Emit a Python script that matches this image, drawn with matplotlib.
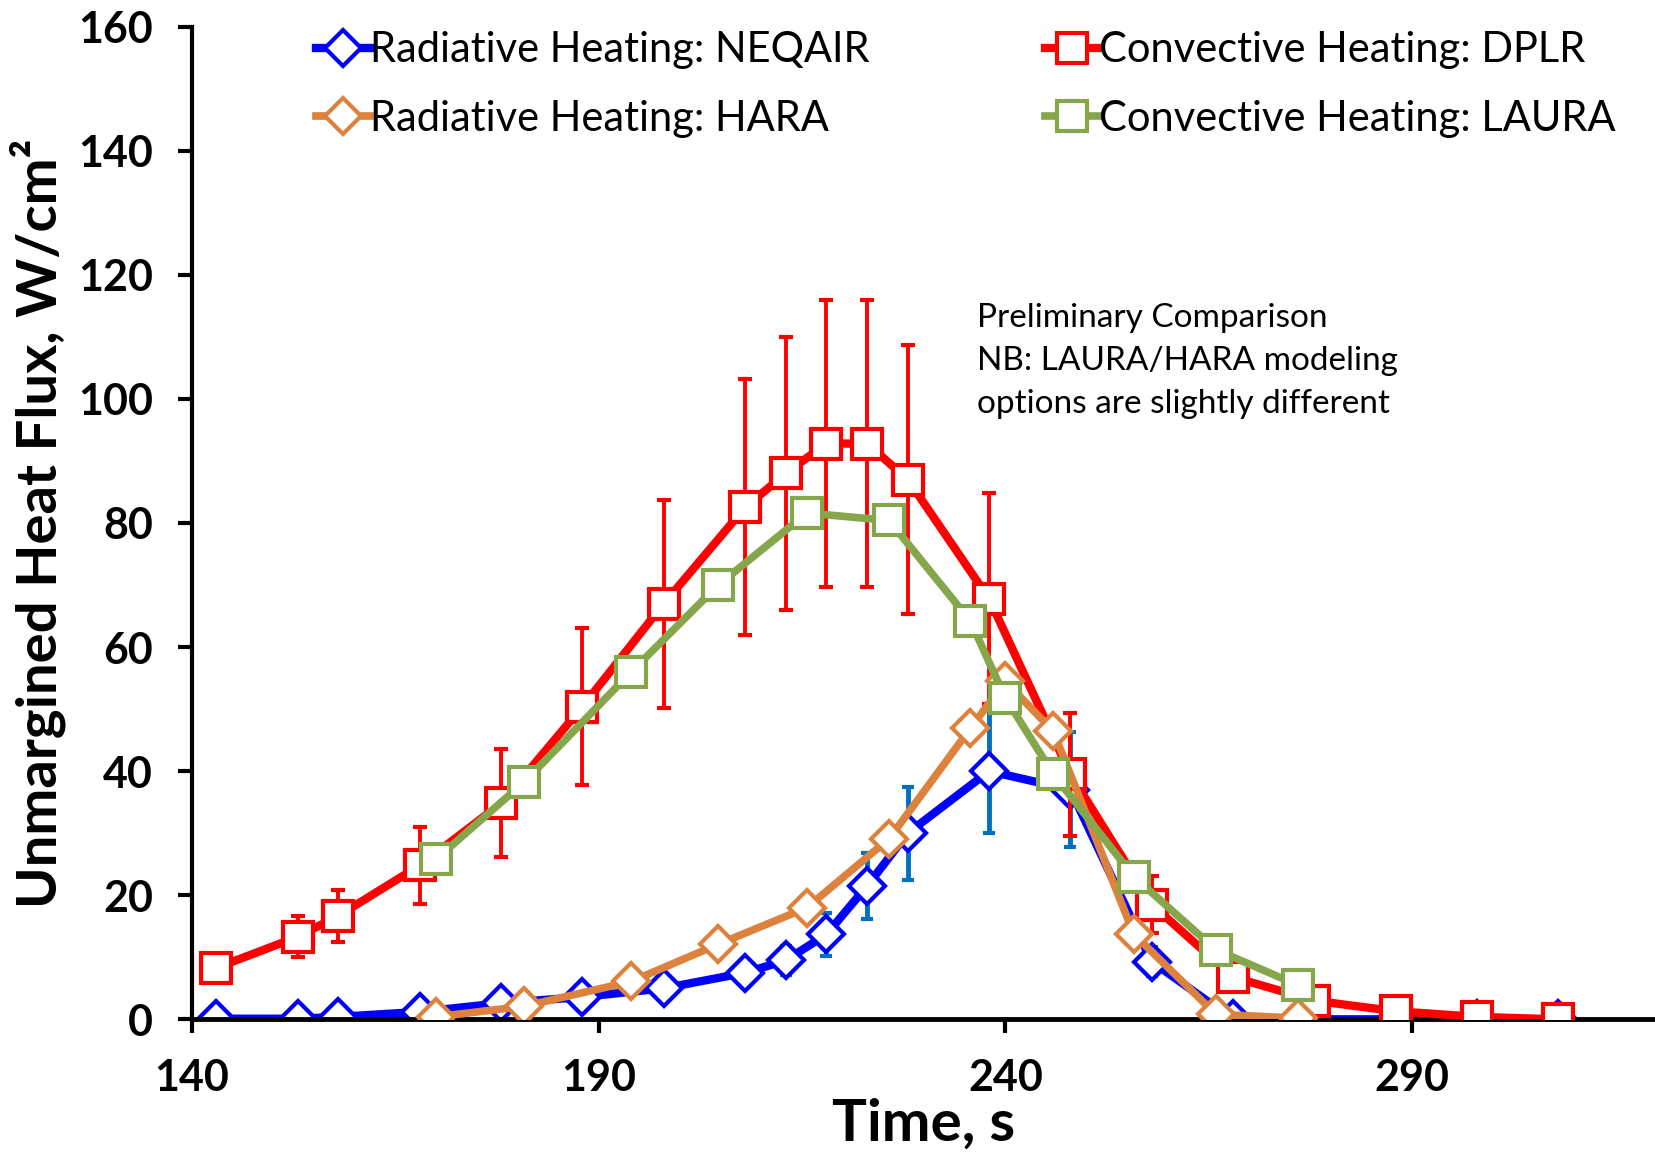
import matplotlib
matplotlib.use("Agg")
import matplotlib.pyplot as plt

plt.rcParams['font.family'] = ['Lato', 'DejaVu Sans']

# times (s) of the NEQAIR / DPLR solutions
t_main = [143, 153, 158, 168, 178, 188, 198, 208, 213, 218, 223, 228, 238, 248, 258, 268, 278, 288, 298, 308]
neqair = [0.1, 0.1, 0.4, 1.2, 2.6, 3.6, 5.0, 7.5, 9.5, 13.7, 21.5, 30.0, 40.0, 37.0, 9.3, 0.0, 0.0, 0.0, 0.0, 0.0]
dplr = [8.3, 13.3, 16.7, 24.8, 34.8, 50.4, 67.0, 82.5, 88.0, 92.8, 92.8, 87.0, 67.8, 39.5, 18.5, 6.8, 3.0, 1.3, 0.4, 0.0]

# times (s) of the HARA / LAURA solutions
t_laura = [170, 180.8, 194, 204.7, 215.6, 225.7, 235.7, 240, 245.9, 255.8, 265.9, 276]
hara = [0.4, 2.1, 6.1, 12.1, 18.0, 29.1, 46.9, 54.5, 46.4, 13.7, 0.8, 0.2]
laura = [25.8, 38.2, 56.0, 70.0, 81.6, 80.4, 64.2, 51.8, 39.5, 23.0, 11.2, 5.5]

# percentage error bars on the NEQAIR and DPLR points
err_pct = 0.25

labels = ['Radiative Heating: NEQAIR', 'Convective Heating: DPLR',
          'Radiative Heating: HARA', 'Convective Heating: LAURA']
colors = ['#0000FF', '#FF0000', '#DC823C', '#86A64C']
note = "Preliminary Comparison\nNB: LAURA/HARA modeling\noptions are slightly different"

fig = plt.figure(figsize=(16.56, 11.57), dpi=100)
ax = fig.add_axes([0.116, 0.119, 0.884, 0.858])

sq = dict(marker='s', markersize=21, markeredgewidth=3, markerfacecolor='white')
dm = dict(marker='D', markersize=18, markeredgewidth=3, markerfacecolor='white')

h_neq = ax.errorbar(t_main, neqair, yerr=[v * err_pct for v in neqair], color=colors[0],
                    lw=6, ecolor='#0070C0', elinewidth=3.5, capsize=4, capthick=4,
                    zorder=2, **dm)
h_dplr = ax.errorbar(t_main, dplr, yerr=[v * err_pct for v in dplr], color=colors[1],
                     lw=6, ecolor='#FF0000', elinewidth=2.8, capsize=5, capthick=2.8,
                     zorder=3, **sq)
h_hara, = ax.plot(t_laura, hara, color=colors[2], lw=5.5, zorder=4, **dm)
h_laura, = ax.plot(t_laura, laura, color=colors[3], lw=5.5, zorder=5, **sq)

ax.set_xlim(140, 320)
ax.set_ylim(0, 160)
ax.set_xticks([140, 190, 240, 290])
ax.set_yticks(range(0, 161, 20))

for s in ['top', 'right']:
    ax.spines[s].set_visible(False)
ax.spines['left'].set_linewidth(3)
ax.spines['bottom'].set_linewidth(3.5)
ax.tick_params(axis='both', direction='out', length=10, width=3, labelsize=31)
ax.tick_params(axis='x', pad=18)
ax.tick_params(axis='y', pad=18)
for lab in ax.get_xticklabels() + ax.get_yticklabels():
    lab.set_fontweight('bold')

ax.set_xlabel('Time, s', fontsize=42, fontweight='bold', labelpad=0)
ax.set_ylabel('Unmargined Heat Flux, W/cm²', fontsize=40.5, fontweight='bold', labelpad=9)

ax.text(0.536, 0.722, note, transform=ax.transAxes, fontsize=24, linespacing=1.55,
        va='top', ha='left')

leg_kw = dict(frameon=False, fontsize=30, handlelength=1.3, handletextpad=0.0,
              labelspacing=0.73, borderpad=0, borderaxespad=0, numpoints=1,
              loc='upper left')
fig.legend([h_neq[0], h_hara], [labels[0], labels[2]],
           bbox_to_anchor=(0.191, 0.973), **leg_kw)
fig.legend([h_dplr[0], h_laura], [labels[1], labels[3]],
           bbox_to_anchor=(0.631, 0.973), **leg_kw)

fig.savefig('out.png', dpi=100)
